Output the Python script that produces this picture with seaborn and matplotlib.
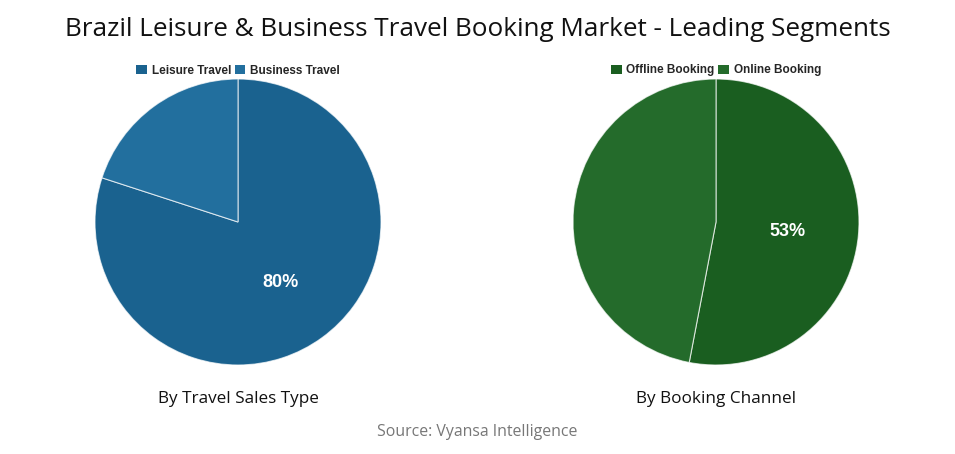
import matplotlib
matplotlib.use("Agg")
import matplotlib.pyplot as plt
import seaborn as sns
import numpy as np
from matplotlib.patches import Patch

sns.set_style("white")
plt.rcParams['font.family'] = ['Open Sans', 'DejaVu Sans']

title = "Brazil Leisure & Business Travel Booking Market - Leading Segments"
left_labels = ["Leisure Travel", "Business Travel"]
left_values = [80, 20]
left_colors = ["#1a628f", "#226f9e"]
left_sub = "By Travel Sales Type"

right_labels = ["Offline Booking", "Online Booking"]
right_values = [53, 47]
right_colors = ["#1a5e20", "#246b2b"]
right_sub = "By Booking Channel"

source = "Source: Vyansa Intelligence"

W, H = 955, 454
fig = plt.figure(figsize=(W / 100, H / 100), dpi=100)
fig.patch.set_facecolor("white")

R = 143


def draw(cx, cy, labels, values, colors, sub):
    ax = fig.add_axes([(cx - R) / W, 1 - (cy + R) / H, 2 * R / W, 2 * R / H])
    ax.pie(values, colors=colors, startangle=90, counterclock=False,
           wedgeprops=dict(edgecolor=(1, 1, 1, 0.7), linewidth=0.8))
    ax.set_xlim(-1, 1)
    ax.set_ylim(-1, 1)
    ax.set_aspect("equal")
    i = int(np.argmax(values))
    total = sum(values)
    start = 90 - sum(values[:i]) / total * 360
    mid = start - values[i] / total * 360 / 2
    ang = np.deg2rad(mid)
    ax.text(0.5 * np.cos(ang), 0.5 * np.sin(ang) - 0.02, f"{values[i]}%", ha="center", va="center",
            color="white", fontsize=13, fontweight="bold", family=["Liberation Sans"])
    handles = [Patch(facecolor=c, edgecolor="none") for c in colors]
    fig.legend(handles, labels, loc="center", bbox_to_anchor=(cx / W, 1 - 70.5 / H), ncol=2,
               frameon=False, prop=dict(family="Liberation Sans", weight="bold", size=8.5),
               handlelength=0.9, handleheight=0.9, handletextpad=0.4, columnspacing=0.3)
    fig.text(cx / W, 1 - 399 / H, sub, ha="center", va="center", fontsize=12.3, color="#111111")


draw(238, 222, left_labels, left_values, left_colors, left_sub)
draw(716, 222, right_labels, right_values, right_colors, right_sub)

fig.text(0.5, 1 - 29 / H, title, ha="center", va="center", fontsize=18.8, color="#111111")
fig.text(0.5, 1 - 432 / H, source, ha="center", va="center", fontsize=11.4, color="#777777")

fig.savefig("out.png", dpi=100, facecolor="white")
